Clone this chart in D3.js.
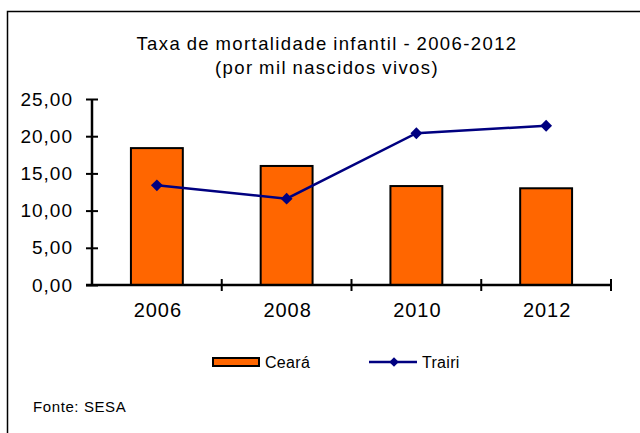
<!DOCTYPE html>
<html>
<head>
<meta charset="utf-8">
<script src="https://cdn.jsdelivr.net/npm/d3@7"></script>
<style>
  body { margin: 0; background: #fff; }
  svg text { font-family: "Liberation Sans", Arial, sans-serif; fill: #000; }
</style>
</head>
<body>
<svg id="chart" width="640" height="433"></svg>
<script>
// data
const years = ["2006", "2008", "2010", "2012"];
const ceara = [18.4, 16.0, 13.3, 13.0];
const trairi = [13.4, 11.6, 20.4, 21.4];
const yTicks = [0, 5, 10, 15, 20, 25];

const svg = d3.select("#chart");

// outer frame (runs off the right and bottom edges)
svg.append("rect")
  .attr("x", 7.5).attr("y", 11.5)
  .attr("width", 700).attr("height", 500)
  .attr("fill", "none")
  .attr("stroke", "#000")
  .attr("stroke-width", 1.5);

const plotLeft = 92, plotRight = 611, plotTop = 99, plotBottom = 285;

const x = d3.scaleBand()
  .domain(years)
  .range([plotLeft, plotRight]);

const y = d3.scaleLinear()
  .domain([0, 25])
  .range([plotBottom, plotTop]);

const fmt = (d) => d3.format(".2f")(d).replace(".", ",");

// title
const title = svg.append("text")
  .attr("text-anchor", "middle")
  .attr("font-size", 18.5)
  .attr("letter-spacing", 1.4)
  .attr("word-spacing", -1);
title.append("tspan").attr("x", 327).attr("y", 50).text("Taxa de mortalidade infantil - 2006-2012");
title.append("tspan").attr("x", 327).attr("y", 74).text("(por mil nascidos vivos)");

// bars
const barW = x.bandwidth() * 0.4;
svg.selectAll("rect.bar")
  .data(years)
  .enter().append("rect")
  .attr("class", "bar")
  .attr("x", (d) => x(d) + (x.bandwidth() - barW) / 2)
  .attr("y", (d, i) => y(ceara[i]))
  .attr("width", barW)
  .attr("height", (d, i) => plotBottom - y(ceara[i]))
  .attr("fill", "#FF6600")
  .attr("stroke", "#000")
  .attr("stroke-width", 2);

// y axis
const yAxis = svg.append("g")
  .attr("transform", `translate(${plotLeft},0)`)
  .call(d3.axisLeft(y).tickValues(yTicks).tickFormat(fmt).tickSize(6).tickPadding(13));
yAxis.select(".domain").attr("stroke-width", 2.5).attr("d", `M0,${plotTop}V${plotBottom}`);
yAxis.selectAll(".tick line").attr("x1", -6).attr("x2", 6).attr("stroke-width", 2);
yAxis.selectAll(".tick text")
  .attr("font-size", 19)
  .attr("letter-spacing", 1)
  .attr("font-family", "Liberation Sans, Arial, sans-serif");

// x axis
const xAxis = svg.append("g")
  .attr("transform", `translate(0,${plotBottom})`)
  .call(d3.axisBottom(x).tickSize(0));
xAxis.select(".domain").attr("stroke-width", 2.5).attr("d", `M${plotLeft - 6},0H${plotRight}`);
xAxis.selectAll(".tick text")
  .attr("font-size", 20)
  .attr("letter-spacing", 1)
  .attr("y", 32)
  .attr("dy", 0)
  .attr("dx", 1)
  .attr("font-family", "Liberation Sans, Arial, sans-serif");

// category boundary ticks
svg.append("g").selectAll("line")
  .data(years.slice(1).map((d) => x(d)).concat([plotRight]))
  .enter().append("line")
  .attr("x1", (d) => d).attr("x2", (d) => d)
  .attr("y1", plotBottom - 6).attr("y2", plotBottom + 6)
  .attr("stroke", "#000")
  .attr("stroke-width", 2);

// line series
const cx = (d) => x(d) + x.bandwidth() / 2;
const line = d3.line()
  .x((d, i) => cx(years[i]))
  .y((d) => y(d));

svg.append("path")
  .datum(trairi)
  .attr("d", line)
  .attr("fill", "none")
  .attr("stroke", "#000080")
  .attr("stroke-width", 2.5);

svg.selectAll("path.marker")
  .data(trairi)
  .enter().append("path")
  .attr("class", "marker")
  .attr("transform", (d, i) => `translate(${cx(years[i])},${y(d)}) rotate(45)`)
  .attr("d", d3.symbol().type(d3.symbolSquare).size(70))
  .attr("fill", "#000080");

// legend
const legend = svg.append("g").attr("font-size", 16).attr("letter-spacing", 0.3);
legend.append("rect")
  .attr("x", 213).attr("y", 358)
  .attr("width", 46).attr("height", 8)
  .attr("fill", "#FF6600")
  .attr("stroke", "#000")
  .attr("stroke-width", 2);
legend.append("text").attr("x", 265).attr("y", 367.5).text("Ceará");

legend.append("line")
  .attr("x1", 369).attr("x2", 417)
  .attr("y1", 362).attr("y2", 362)
  .attr("stroke", "#000080")
  .attr("stroke-width", 2.5);
legend.append("path")
  .attr("transform", "translate(394,362) rotate(45)")
  .attr("d", d3.symbol().type(d3.symbolSquare).size(45))
  .attr("fill", "#000080");
legend.append("text").attr("x", 422).attr("y", 367.5).text("Trairi");

// source
svg.append("text")
  .attr("x", 33).attr("y", 412)
  .attr("font-size", 15)
  .attr("letter-spacing", 0.6)
  .text("Fonte: SESA");
</script>
</body>
</html>
